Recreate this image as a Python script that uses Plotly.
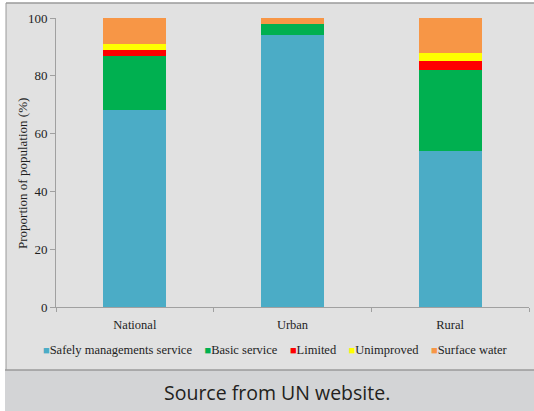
import plotly.graph_objects as go

# Drinking water service levels by area (% of population)
areas = ["National", "Urban", "Rural"]
safely_managed = [68, 94, 54]
basic_service = [19, 4, 28]
limited = [2, 0, 3]
unimproved = [2, 0, 3]
surface_water = [9, 2, 12]

series_names = ["Safely managements service", "Basic service", "Limited",
                "Unimproved", "Surface water"]
series_values = [safely_managed, basic_service, limited, unimproved, surface_water]
series_colors = ["#4bacc6", "#00b050", "#ff0000", "#ffff00", "#f79646"]

W, H = 534, 411
ML, MR, MT, MB = 56, 5, 18, 104
PW, PH = W - ML - MR, H - MT - MB


def px(x):
    return (x - ML) / PW


def py(y):
    return (H - MB - y) / PH


serif = "Liberation Serif"
ink = "#1e1e1e"

fig = go.Figure()
for name, vals, col in zip(series_names, series_values, series_colors):
    fig.add_trace(go.Bar(x=areas, y=vals, name=name, marker_color=col,
                         marker_line_width=0, showlegend=False))

# legend line: coloured squares followed by the series names
nb = "\u00a0"
legend_parts = []
for name, col in zip(series_names, series_colors):
    legend_parts.append(
        f"<span style='color:{col};font-size:11px'>\u25a0</span>{name}")
legend_text = (nb * 4).join(legend_parts)

fig.update_layout(
    width=W, height=H,
    margin=dict(l=ML, r=MR, t=MT, b=MB, pad=0),
    paper_bgcolor="white",
    plot_bgcolor="rgba(0,0,0,0)",
    barmode="stack",
    bargap=0.6,
    font=dict(family=serif, size=12.5, color=ink),
    xaxis=dict(
        showline=True, linecolor="#a0a0a0", linewidth=1,
        ticks="outside", tickson="boundaries", ticklen=4, tickcolor="#a0a0a0",
        tickfont=dict(family=serif, size=12.5, color=ink),
        ticklabelstandoff=6,
        showgrid=False, zeroline=False,
    ),
    yaxis=dict(
        range=[0, 100], dtick=20,
        showline=True, linecolor="#a0a0a0", linewidth=1,
        ticks="outside", ticklen=5, tickcolor="#a0a0a0",
        tickfont=dict(family=serif, size=13, color=ink),
        showgrid=False, zeroline=False,
    ),
    shapes=[
        # chart panel
        dict(type="rect", xref="paper", yref="paper", layer="below",
             x0=px(6), x1=px(W + 2), y0=py(370), y1=py(3),
             fillcolor="#e1e1e1", line_width=0),
        # caption band
        dict(type="rect", xref="paper", yref="paper", layer="below",
             x0=px(5), x1=px(W + 2), y0=py(H + 2), y1=py(370),
             fillcolor="#d3d4d6", line_width=0),
        dict(type="line", xref="paper", yref="paper",
             x0=px(6), x1=px(W + 2), y0=py(3), y1=py(3),
             line=dict(color="#9a9a9a", width=1.5)),
        dict(type="line", xref="paper", yref="paper",
             x0=px(6), x1=px(6), y0=py(370), y1=py(3),
             line=dict(color="#9a9a9a", width=1)),
        dict(type="line", xref="paper", yref="paper",
             x0=px(5), x1=px(W + 2), y0=py(370), y1=py(370),
             line=dict(color="#9a9a9a", width=1.5)),
    ],
    annotations=[
        # y-axis title
        dict(text="Proportion of population (%)", xref="paper", yref="paper",
             x=px(22), y=py(174), xanchor="center", yanchor="middle",
             textangle=-90, showarrow=False,
             font=dict(family=serif, size=13, color=ink)),
        dict(text=legend_text, xref="paper", yref="paper",
             x=px(275), y=py(350), xanchor="center", yanchor="middle",
             showarrow=False,
             font=dict(family=serif, size=12.5, color=ink)),
        dict(text="Source from UN website.", xref="paper", yref="paper",
             x=px(277), y=py(392), xanchor="center", yanchor="middle",
             showarrow=False,
             font=dict(family="Open Sans", size=19.5, color="#231f20")),
    ],
)

fig.write_html("out.html")
